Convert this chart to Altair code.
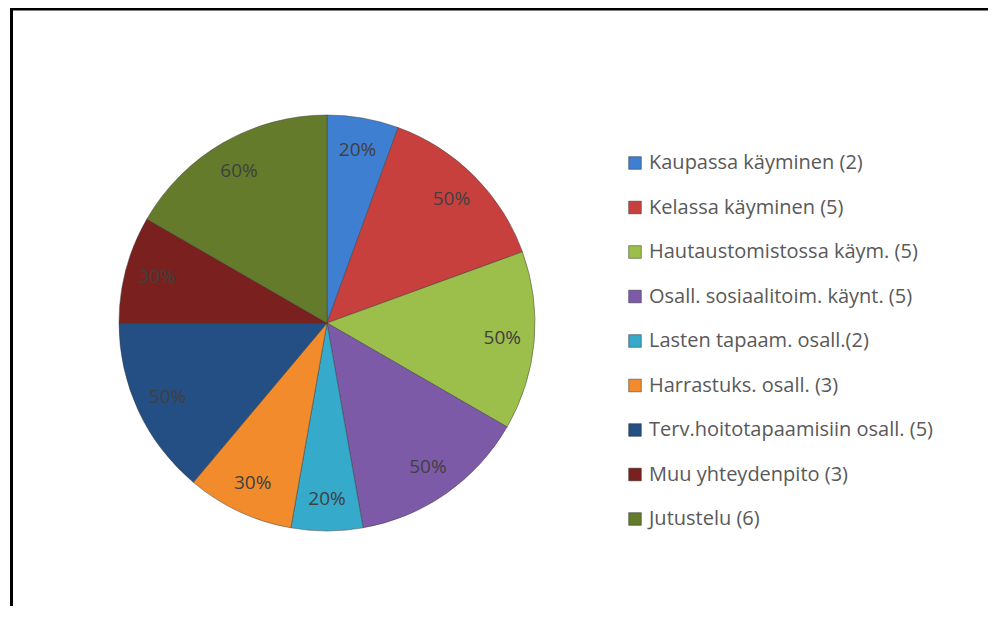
import altair as alt
import pandas as pd

categories = [
    "Kaupassa käyminen (2)",
    "Kelassa käyminen (5)",
    "Hautaustomistossa käym. (5)",
    "Osall. sosiaalitoim. käynt. (5)",
    "Lasten tapaam. osall.(2)",
    "Harrastuks. osall. (3)",
    "Terv.hoitotapaamisiin osall. (5)",
    "Muu yhteydenpito (3)",
    "Jutustelu (6)",
]
values = [20, 50, 50, 50, 20, 30, 50, 30, 60]
labels = ["20%", "50%", "50%", "50%", "20%", "30%", "50%", "30%", "60%"]
colors = ["#3F7FD2", "#C8403E", "#9BBF4A", "#7D5AA8", "#35AACB",
          "#F28B2C", "#234F84", "#7A201E", "#637B2A"]

df = pd.DataFrame({"cat": categories, "val": values, "lab": labels,
                   "idx": list(range(len(categories)))})

W, H = 980, 598
CX, CY = 319, 315

base = alt.Chart(df).encode(
    theta=alt.Theta("val:Q", stack=True),
    order=alt.Order("idx:Q"),
)

pie = base.mark_arc(outerRadius=208, stroke="#3a3a3a", strokeWidth=0.8,
                    strokeOpacity=0.6).encode(
    x=alt.value(CX), y=alt.value(CY),
    color=alt.Color("cat:N", sort=categories,
                    scale=alt.Scale(domain=categories, range=colors),
                    legend=alt.Legend(
                        title=None, orient="none", legendX=617, legendY=145,
                        symbolType="square", symbolSize=160,
                        symbolStrokeColor="#333", symbolStrokeWidth=0.5,
                        labelFont="Open Sans", labelFontSize=20,
                        labelColor="#595959", labelOffset=4,
                        rowPadding=24.5, padding=0, labelLimit=400)),
)

text = base.mark_text(radius=176, font="Open Sans", fontSize=19,
                      color="#404040").encode(
    x=alt.value(CX), y=alt.value(CY),
    text="lab:N",
)

frame_df = pd.DataFrame({"k": [0]})
top_line = alt.Chart(frame_df).mark_rule(color="black", strokeWidth=3).encode(
    x=alt.value(3), x2=alt.value(W + 20), y=alt.value(1))
left_line = alt.Chart(frame_df).mark_rule(color="black", strokeWidth=3).encode(
    x=alt.value(3.5), y=alt.value(0), y2=alt.value(H + 20))

chart = alt.layer(pie, text, top_line, left_line).properties(
    width=W, height=H,
    autosize=alt.AutoSizeParams(type="none"),
    padding=0,
).configure_view(stroke=None)

chart.save("out.html", embed_options={"renderer": "svg", "actions": False})
